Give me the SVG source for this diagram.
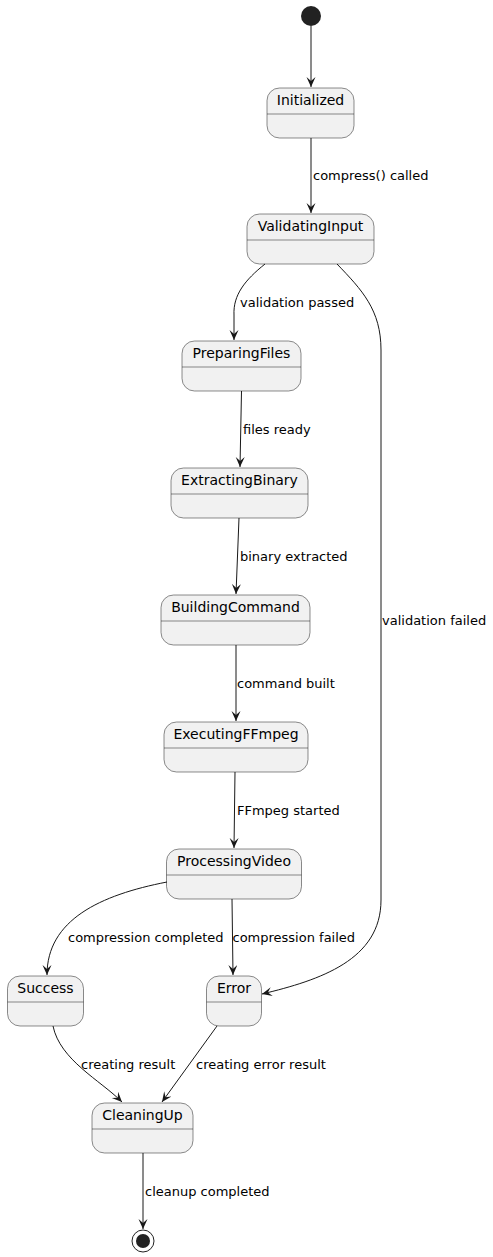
<svg xmlns="http://www.w3.org/2000/svg" width="493" height="1257" viewBox="0 0 493 1257">
<defs>
<marker id="arr" markerUnits="userSpaceOnUse" markerWidth="12" markerHeight="10" refX="10" refY="4.5" orient="auto">
<path d="M0,0 L10,4.5 L0,9 L4,4.5 Z" fill="#181818"/>
</marker>
<style>
.st rect{fill:#F1F1F1;stroke:#181818;stroke-width:0.5}
.st line{stroke:#181818;stroke-width:0.5}
.st text{font-family:"DejaVu Sans",sans-serif;font-size:14px;fill:#000;text-anchor:middle}
.edges path{fill:none;stroke:#181818;stroke-width:1;marker-end:url(#arr)}
.lbl{font-family:"DejaVu Sans",sans-serif;font-size:13px;fill:#000}
</style>
</defs>
<rect width="493" height="1257" fill="#FFFFFF"/>
<g id="start"><circle cx="311" cy="16" r="10" fill="#222222"/></g>
<g id="Initialized" class="st"><rect x="267" y="88" width="87" height="50" rx="12.5"/><line x1="267" y1="114" x2="354" y2="114"/><text x="310.5" y="105">Initialized</text></g>
<g id="ValidatingInput" class="st"><rect x="247" y="214" width="127" height="50" rx="12.5"/><line x1="247" y1="240" x2="374" y2="240"/><text x="310.5" y="231">ValidatingInput</text></g>
<g id="PreparingFiles" class="st"><rect x="182" y="341" width="119" height="50" rx="12.5"/><line x1="182" y1="367" x2="301" y2="367"/><text x="241.5" y="358">PreparingFiles</text></g>
<g id="ExtractingBinary" class="st"><rect x="171" y="468" width="137" height="50" rx="12.5"/><line x1="171" y1="494" x2="308" y2="494"/><text x="239.5" y="485">ExtractingBinary</text></g>
<g id="BuildingCommand" class="st"><rect x="161" y="595" width="149" height="50" rx="12.5"/><line x1="161" y1="621" x2="310" y2="621"/><text x="235.5" y="612">BuildingCommand</text></g>
<g id="ExecutingFFmpeg" class="st"><rect x="164" y="722" width="144" height="50" rx="12.5"/><line x1="164" y1="748" x2="308" y2="748"/><text x="236" y="739">ExecutingFFmpeg</text></g>
<g id="ProcessingVideo" class="st"><rect x="166.5" y="849" width="135" height="50" rx="12.5"/><line x1="166.5" y1="875" x2="301.5" y2="875"/><text x="234" y="866">ProcessingVideo</text></g>
<g id="Success" class="st"><rect x="7.5" y="976" width="76" height="50" rx="12.5"/><line x1="7.5" y1="1002" x2="83.5" y2="1002"/><text x="45.5" y="993">Success</text></g>
<g id="Error" class="st"><rect x="206.5" y="976" width="55" height="50" rx="12.5"/><line x1="206.5" y1="1002" x2="261.5" y2="1002"/><text x="234" y="993">Error</text></g>
<g id="CleaningUp" class="st"><rect x="92" y="1103" width="101" height="50" rx="12.5"/><line x1="92" y1="1129" x2="193" y2="1129"/><text x="142.5" y="1120">CleaningUp</text></g>
<g id="end"><circle cx="143" cy="1241" r="11" fill="none" stroke="#222222" stroke-width="1"/><circle cx="143" cy="1241" r="7" fill="#222222"/></g>
<g class="edges">
<path d="M311,26 L311,87"/>
<path d="M311,138 L311,213"/>
<path d="M265,264 C245,280 233,295 234,315 L234,340"/>
<path d="M337,264 C362,290 381,310 381,350 L381,900 C381,960 320,980 262,994"/>
<path d="M241.5,391 L240,467"/>
<path d="M239,518 L236,594"/>
<path d="M236,645 L236,721"/>
<path d="M235,772 L234,848"/>
<path d="M167,882 C100,895 47,920 47,975"/>
<path d="M232,899 L233,975"/>
<path d="M53,1026 C60,1060 100,1080 122,1102"/>
<path d="M217,1026 L162,1102"/>
<path d="M143,1153 L143,1229"/>
</g>
<g id="labels">
<text class="lbl" x="313" y="180">compress() called</text>
<text class="lbl" x="240" y="307">validation passed</text>
<text class="lbl" x="382" y="625">validation failed</text>
<text class="lbl" x="243" y="434">files ready</text>
<text class="lbl" x="240" y="561">binary extracted</text>
<text class="lbl" x="237" y="688">command built</text>
<text class="lbl" x="237" y="815">FFmpeg started</text>
<text class="lbl" x="68" y="942">compression completed</text>
<text class="lbl" x="232.5" y="942">compression failed</text>
<text class="lbl" x="81" y="1069">creating result</text>
<text class="lbl" x="196" y="1069">creating error result</text>
<text class="lbl" x="145" y="1196">cleanup completed</text>
</g>
</svg>
